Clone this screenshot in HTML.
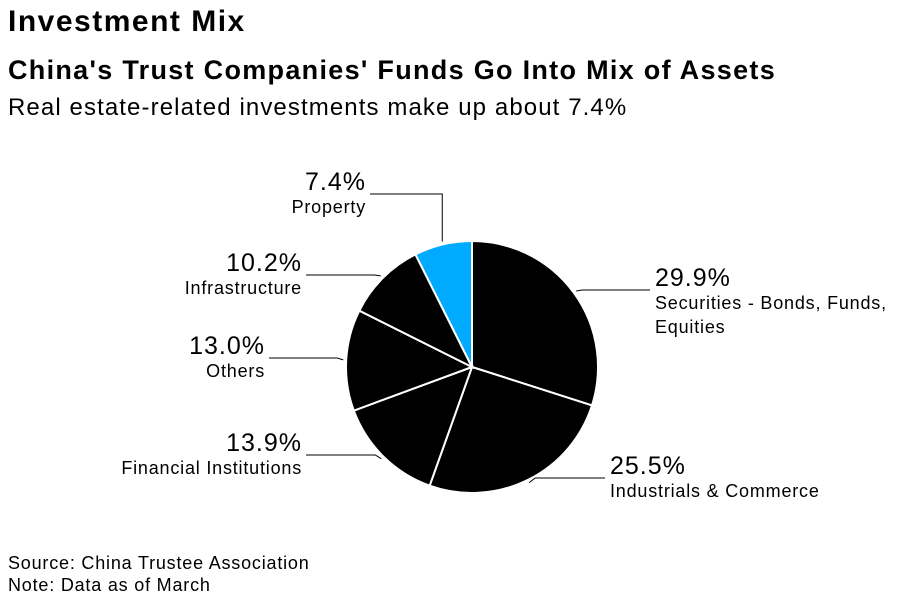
<!DOCTYPE html>
<html><head><meta charset="utf-8"><style>
body{margin:0;background:#fff;font-family:"Liberation Sans",sans-serif;}
#c{position:relative;width:897px;height:604px;overflow:hidden}
.t{position:absolute;white-space:nowrap;color:#000}
</style></head><body>
<div id="c">
<div class="t" style="left:8px;top:5px;font-size:30px;font-weight:bold;letter-spacing:1.5px;">Investment Mix</div>
<div class="t" style="left:8px;top:55px;font-size:27px;font-weight:bold;letter-spacing:1.3px;">China's Trust Companies' Funds Go Into Mix of Assets</div>
<div class="t" style="left:8px;top:94px;font-size:24px;letter-spacing:1.1px;">Real estate-related investments make up about 7.4%</div>
<svg id="pie" width="897" height="604" style="position:absolute;left:0;top:0"></svg>
<div class="t" style="left:8px;top:553px;font-size:18px;letter-spacing:0.8px;">Source: China Trustee Association</div>
<div class="t" style="left:8px;top:575px;font-size:18px;letter-spacing:0.8px;">Note: Data as of March</div>
</div>
<script>
const categories=["Securities - Bonds, Funds,|Equities","Industrials & Commerce","Financial Institutions","Others","Infrastructure","Property"];
const values=[29.9,25.5,13.9,13.0,10.2,7.4];
const colors=["#000","#000","#000","#000","#000","#00aaff"];
const labelPos=[[655,false,290],[610,false,478],[302,true,455],[265,true,358],[302,true,275],[366,true,194]];
const NS="http://www.w3.org/2000/svg";
const svg=document.getElementById('pie');
const cx=472,cy=367,r=126;
const total=values.reduce((a,b)=>a+b,0);
let a0=0;
function pt(a,rr){return [cx+rr*Math.sin(a),cy-rr*Math.cos(a)];}
values.forEach((v,i)=>{
  const a1=a0+v/total*2*Math.PI;
  const p0=pt(a0,r),p1=pt(a1,r);
  const path=document.createElementNS(NS,'path');
  path.setAttribute('d',`M${cx},${cy}L${p0[0]},${p0[1]}A${r},${r} 0 ${a1-a0>Math.PI?1:0} 1 ${p1[0]},${p1[1]}Z`);
  path.setAttribute('fill',colors[i]);path.setAttribute('stroke','#fff');path.setAttribute('stroke-width','2');
  
  
  svg.appendChild(path);
  const mid=(a0+a1)/2;const e=pt(mid,r+3);
  const [lx,left,ly]=labelPos[i];
  const line=document.createElementNS(NS,'polyline');
  const endX=left?lx+4:lx-5;
  let pts;
  if(i===5){pts=`${e[0]},${e[1]} ${e[0]},${ly} ${endX},${ly}`;}
  else pts=`${e[0]},${e[1]} ${e[0]+(left?-6:6)},${ly} ${endX},${ly}`;
  line.setAttribute('points',pts);line.setAttribute('fill','none');line.setAttribute('stroke','#000');line.setAttribute('stroke-width','1');
  
  
  svg.appendChild(line);
  const tv=document.createElementNS(NS,'text');
  tv.setAttribute('x',lx);tv.setAttribute('y',ly-4);tv.setAttribute('font-size','25');
  tv.setAttribute('letter-spacing','1');
  tv.setAttribute('text-anchor',left?'end':'start');tv.setAttribute('font-family','Liberation Sans');
  tv.textContent=v.toFixed(1)+'%';
  
  
  svg.appendChild(tv);
  categories[i].split('|').forEach((s,k)=>{
    const tc=document.createElementNS(NS,'text');
    tc.setAttribute('x',lx);tc.setAttribute('y',ly+19+k*24);tc.setAttribute('font-size','18');
    tc.setAttribute('letter-spacing','0.8');
    tc.setAttribute('text-anchor',left?'end':'start');tc.setAttribute('font-family','Liberation Sans');
    tc.textContent=s;
    
    
    svg.appendChild(tc);
  });
  a0=a1;
});
</script>
</body></html>
